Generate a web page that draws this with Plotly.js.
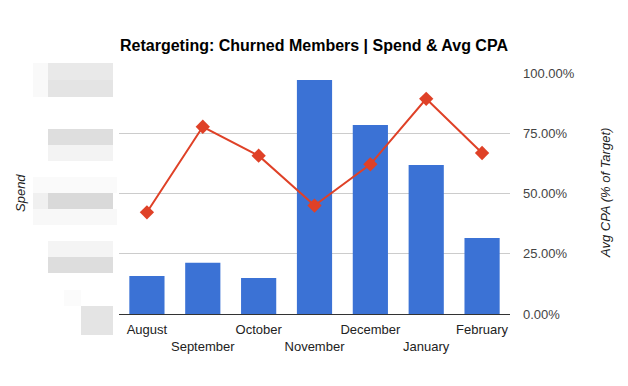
<!DOCTYPE html>
<html>
<head>
<meta charset="utf-8">
<script src="https://cdn.plot.ly/plotly-3.0.1.min.js"></script>
<style>html,body{margin:0;padding:0;background:#fff;}#chart{width:628px;height:386px;}</style>
</head>
<body>
<div id="chart"></div>
<script>
// Data (Spend axis labels are obscured, values in % of axis max)
var months = ["August","September","October","November","December","January","February"];
var monthLabels = ["August","<br>September","October","<br>November","December","<br>January","February"];
var spend = [15.8, 21.3, 14.9, 97.1, 78.4, 61.8, 31.5];
var avgCpa = [0.422, 0.777, 0.657, 0.450, 0.621, 0.893, 0.668];
var cpaTicks = [0, 0.25, 0.5, 0.75, 1.0];

var W = 628, H = 386;
var L = 119, R = 118, T = 73, B = 72;
var pw = W - L - R, ph = H - T - B;
function px(x){ return (x - L) / pw; }
function py(y){ return (H - B - y) / ph; }

// obscured (blurred) left-axis label blocks, drawn as grey rectangles
var blur = [
  [33,63,48,80,'#f9f9f9'],[48,63,113,80,'#e9e9e9'],[33,80,48,97,'#f9f9f9'],[48,80,113,97,'#e4e4e4'],
  [48,129,113,145,'#dedede'],[48,145,113,161,'#f3f3f3'],
  [33,177,117,193,'#fafafa'],[33,193,48,209,'#f0f0f0'],[48,193,113,209,'#d9d9d9'],[33,209,117,225,'#f8f8f8'],
  [48,241,113,257,'#f4f4f4'],[48,257,113,273,'#dddddd'],
  [64,290,81,306,'#fbfbfb'],[81,306,113,335,'#e4e4e4']
];
var shapes = blur.map(function(b){
  return {type:'rect', xref:'paper', yref:'paper', x0:px(b[0]), x1:px(b[2]), y0:py(b[3]), y1:py(b[1]),
          fillcolor:b[4], line:{width:0}, layer:'below'};
});

var traces = [
  {type:'bar', x:months, y:spend, name:'Spend', marker:{color:'#3b72d5'}, yaxis:'y', hoverinfo:'x+y'},
  {type:'scatter', mode:'lines+markers', x:months, y:avgCpa, name:'Avg CPA (% of Target)', yaxis:'y2',
   line:{color:'#df4127', width:2}, marker:{symbol:'diamond', size:11, color:'#df4127'}}
];

var layout = {
  width:W, height:H,
  margin:{l:L, r:R, t:T, b:B, pad:0},
  paper_bgcolor:'#fff', plot_bgcolor:'#fff',
  showlegend:false,
  bargap:0.37,
  font:{family:'Liberation Sans, Arial, sans-serif', size:13, color:'#222'},
  title:{text:'<b>Retargeting: Churned Members | Spend & Avg CPA</b>', x:0.5, xanchor:'center', y:1-45/H, yanchor:'middle',
         font:{family:'Liberation Sans, Arial, sans-serif', size:16, color:'#000'}},
  xaxis:{type:'category', tickmode:'array', tickvals:months, ticktext:monthLabels, showgrid:false, tickangle:0,
         showline:true, linecolor:'#333', linewidth:1, ticks:'', ticklabelstandoff:3, tickfont:{size:13, color:'#222'},
         automargin:false, fixedrange:true},
  yaxis:{range:[0,100], showgrid:false, zeroline:false, showticklabels:false, ticks:'', automargin:false},
  yaxis2:{overlaying:'y', side:'right', range:[0,1], tickmode:'array', tickvals:cpaTicks, tickformat:'.2%',
          showgrid:true, gridcolor:'#cccccc', gridwidth:1, zeroline:false, ticks:'', ticklabelstandoff:12,
          tickfont:{size:13, color:'#444'}, automargin:false},
  shapes:shapes,
  annotations:[
    {text:'<i>Spend</i>', xref:'paper', yref:'paper', x:px(20), y:py(193), textangle:-90, showarrow:false,
     font:{size:13, color:'#222'}, xanchor:'center', yanchor:'middle'},
    {text:'<i>Avg CPA (% of Target)</i>', xref:'paper', yref:'paper', x:px(605), y:py(193), textangle:-90, showarrow:false,
     font:{size:13, color:'#222'}, xanchor:'center', yanchor:'middle'}
  ]
};

Plotly.newPlot('chart', traces, layout, {displayModeBar:false, staticPlot:true});
</script>
</body>
</html>
